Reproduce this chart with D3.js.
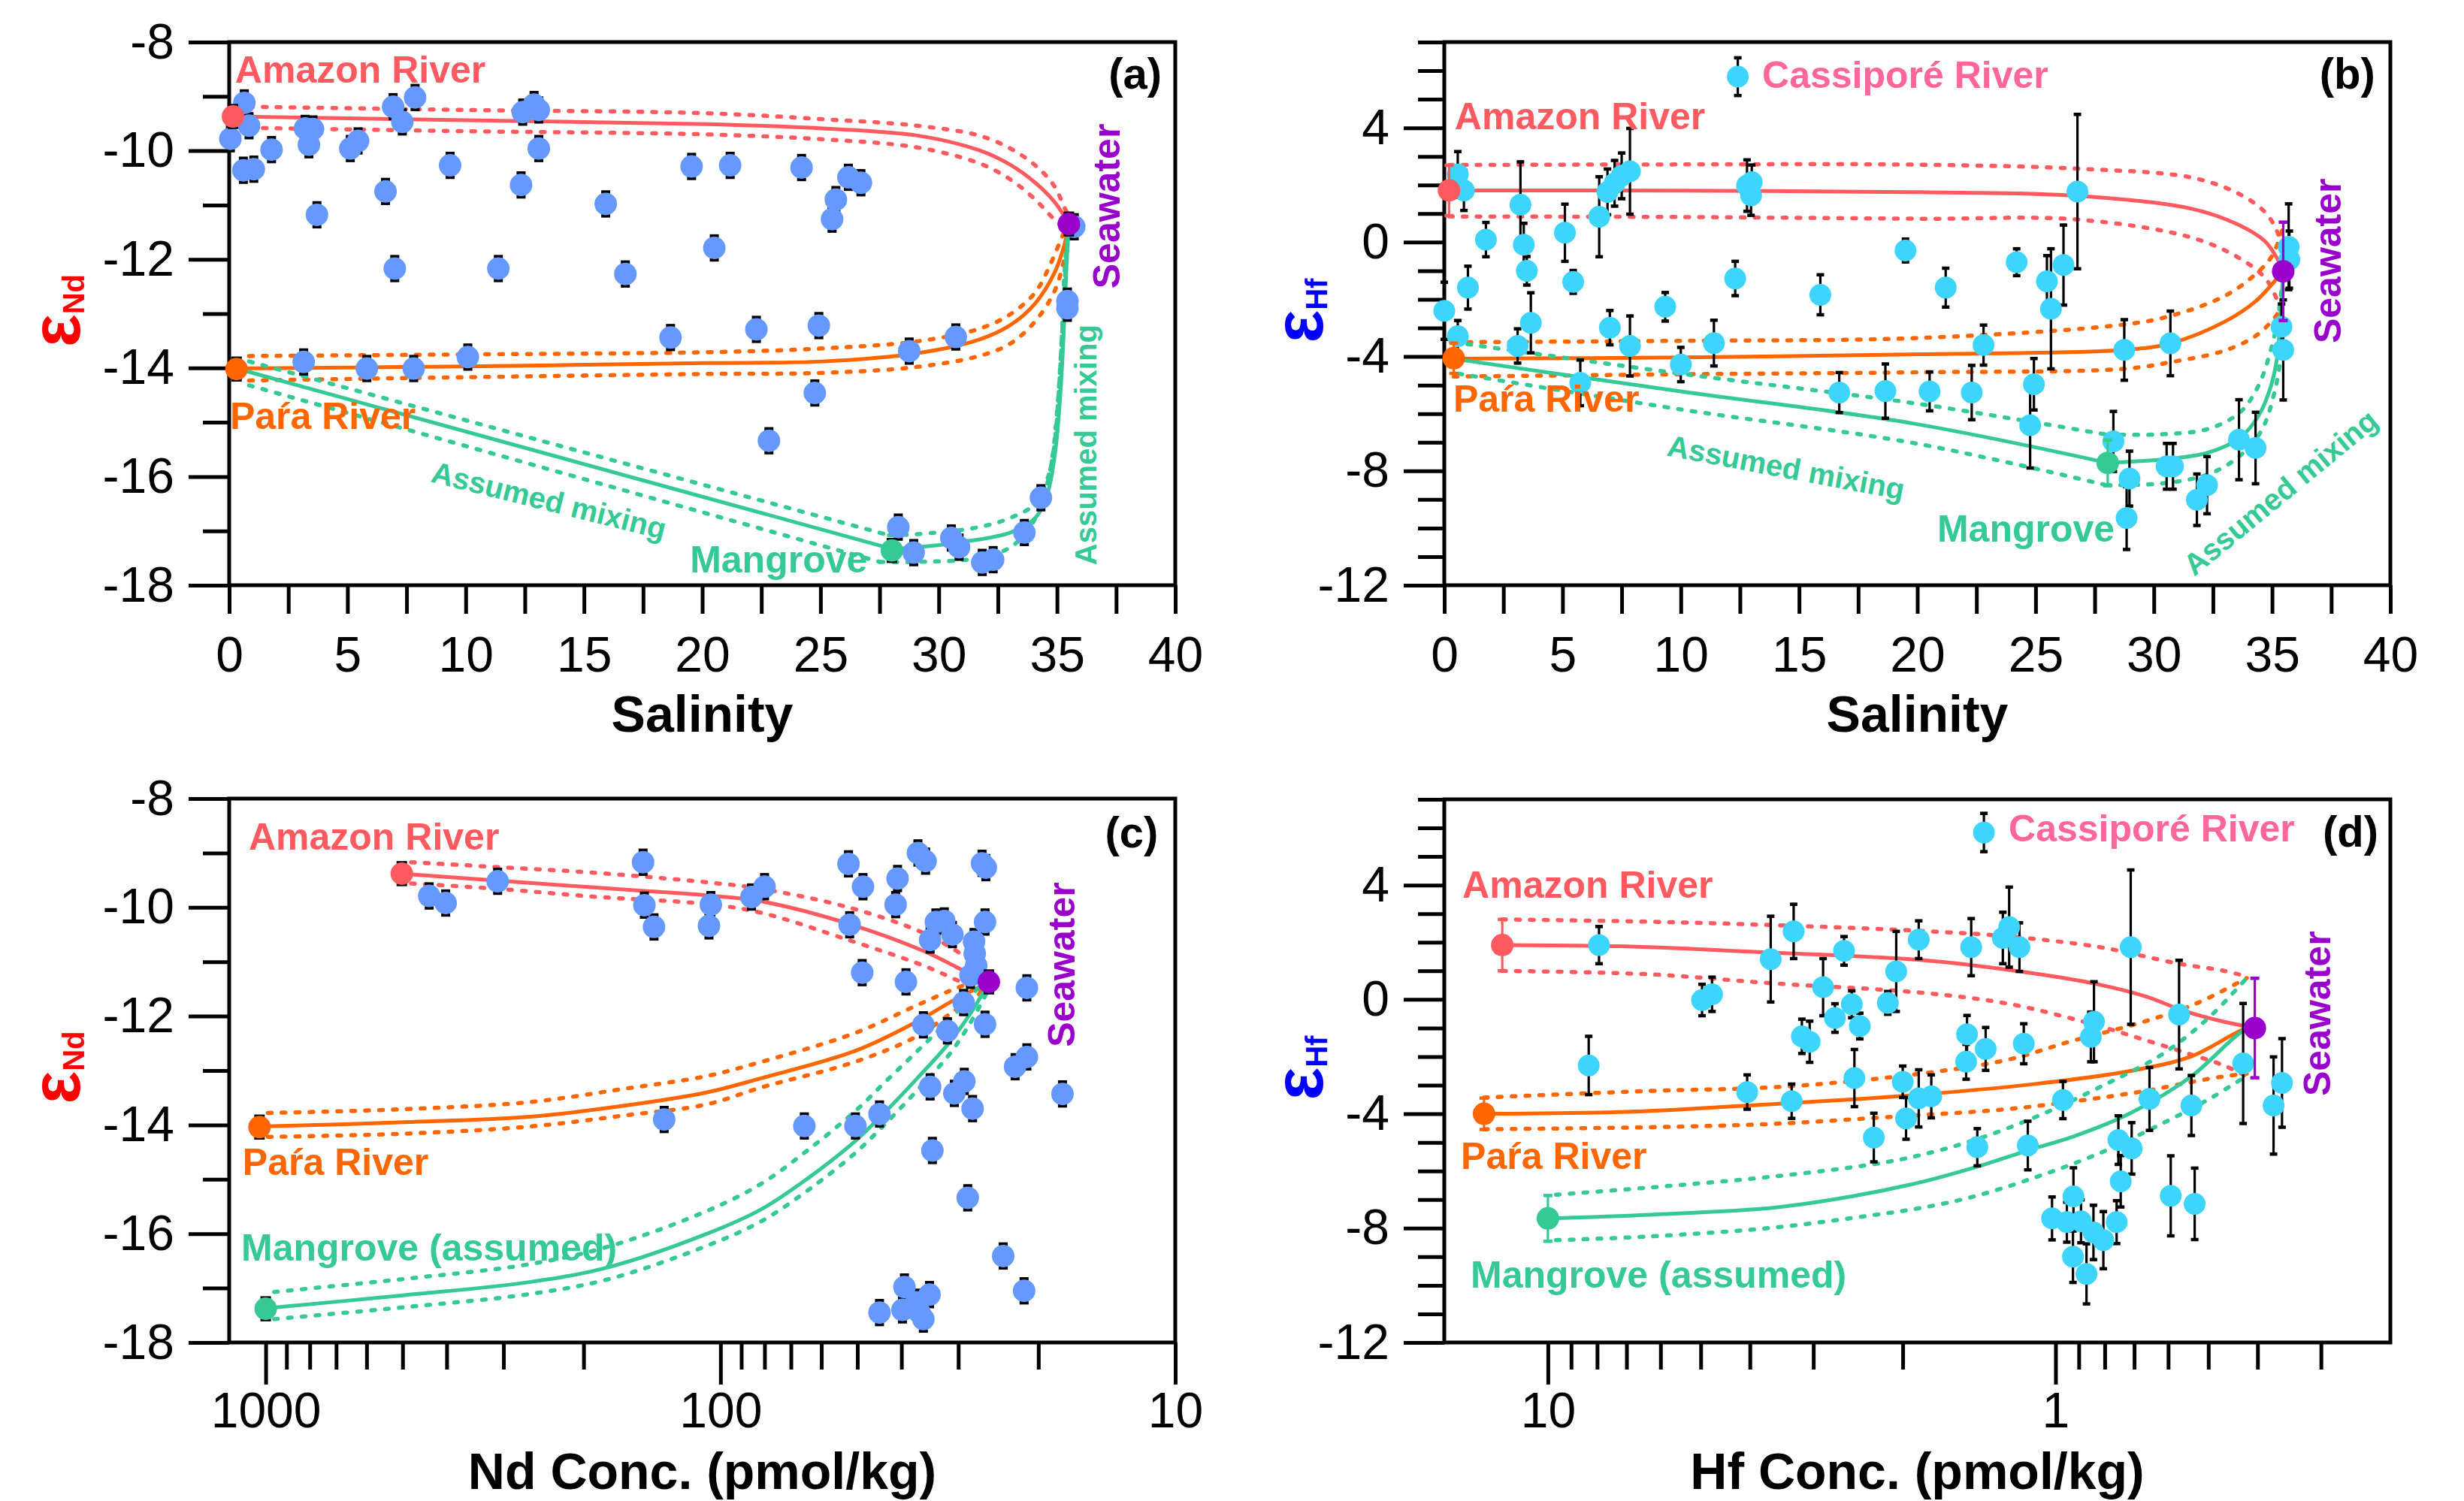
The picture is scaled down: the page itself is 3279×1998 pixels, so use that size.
<!DOCTYPE html>
<html>
<head>
<meta charset="utf-8">
<script src="https://cdn.jsdelivr.net/npm/d3@7"></script>
<style>
  html, body { margin: 0; background: #fff; }
  svg { display: block; }
</style>
</head>
<body>
<svg id="fig" width="3279" height="1998"></svg>
<script>
/*  Nd / Hf isotopes vs salinity and concentration – four panels (a)–(d)
    ------------------------------------------------------------------ */

///// 1.  TICKS
const salTicks    = [0, 2.5, 5, 7.5, 10, 12.5, 15, 17.5, 20, 22.5, 25, 27.5, 30, 32.5, 35, 37.5, 40];
const salLabels   = [0, 5, 10, 15, 20, 25, 30, 35, 40];
const ndMajor     = [-18, -16, -14, -12, -10, -8];
const ndMinor     = [-17, -15, -13, -11, -9];
const hfMajor     = [-12, -8, -4, 0, 4];
const hfMinor     = [-11, -10, -9, -7, -6, -5, -3, -2, -1, 1, 2, 3, 5, 6, 7];
const ndConcMajor = [1000, 100, 10];
const ndConcMinor = [900, 800, 700, 600, 500, 400, 300, 200, 90, 80, 70, 60, 50, 40, 30, 20];
const hfConcMajor = [10, 1];
const hfConcMinor = [9, 8, 7, 6, 5, 4, 3, 2, 0.9, 0.8, 0.7, 0.6, 0.5, 0.4, 0.3];

///// 2.  END MEMBERS  [x, eps, err]
const endA = { amz: [0.16, -9.37, 0.2], para: [0.31, -14.02, 0.2], mg: [28.02, -17.36, 0.2], sw: [35.5, -11.35, 0.2] };
const endB = { amz: [0.2, 1.81, 0.88], para: [0.4, -4.06, 0.53], mg: [28.05, -7.72, 0.8], sw: [35.47, -1.02, 1.72] };
const endC = { amz: [502, -9.38, 0.2], para: [1032, -14.04, 0.2], mg: [1000, -17.38, 0.2], sw: [25.7, -11.37, 0.2] };
const endD = { amz: [12.3, 1.9, 0.9], para: [13.36, -4.0, 0.55], mg: [10, -7.66, 0.8], sw: [0.405, -1.0, 1.74] };

const ndErr = 0.22;   // εNd 2σ (same for all samples)

///// 3.  SAMPLES
// (a) salinity, εNd
const ndSal = [
  [0.05,-9.78],[0.64,-9.12],[0.84,-9.54],[0.6,-10.36],[1.04,-10.34],[1.79,-9.98],
  [3.21,-9.59],[3.54,-9.6],[3.37,-9.89],[3.71,-11.18],[5.12,-9.96],[5.45,-9.82],
  [6.61,-10.75],[6.93,-9.19],[7.32,-9.47],[7.0,-12.17],[7.86,-9.02],[9.34,-10.27],
  [11.38,-12.17],[12.34,-10.63],[12.41,-9.29],[12.89,-9.15],[13.09,-9.25],[13.09,-9.96],
  [15.92,-10.98],[16.75,-12.27],[18.66,-13.44],[19.55,-10.29],[21.18,-10.27],[20.51,-11.79],
  [22.29,-13.29],[22.82,-15.34],[24.2,-10.31],[24.93,-13.22],[24.76,-14.46],[25.49,-11.26],
  [25.65,-10.9],[26.18,-10.49],[26.71,-10.59],[28.75,-13.69],[30.72,-13.43],
  [28.29,-16.93],[28.94,-17.4],[30.53,-17.13],[30.86,-17.3],[31.84,-17.58],[32.3,-17.53],
  [33.62,-17.03],[34.32,-16.39],[35.44,-12.77],[35.44,-12.9],[35.73,-11.4],
  [3.15,-13.89],[5.82,-14.01],[7.8,-14.01],[10.09,-13.8]
];
// (b) salinity, εHf, err
const hfSal = [
  [0,-2.4,1.0],[0.57,2.37,0.8],[0.83,1.81,0.7],[0.57,-3.29,0.55],[1.0,-1.59,0.75],[1.76,0.09,0.6],
  [3.22,1.31,1.5],[3.36,-0.09,0.75],[3.49,-1.0,0.5],[3.1,-3.63,0.6],[3.66,-2.82,1.05],[5.1,0.33,1.0],
  [5.45,-1.39,0.4],[5.75,-4.92,0.8],[6.55,0.89,1.4],[6.9,1.76,0.8],[7.2,2.06,0.8],[7.5,2.32,0.8],
  [7.85,2.48,1.5],[7.0,-2.99,0.6],[7.85,-3.63,1.05],[9.34,-2.26,0.5],[10.0,-4.28,0.6],[11.4,-3.53,0.8],
  [12.3,-1.27,0.6],[12.8,1.98,0.9],[13.0,2.1,0.6],[12.97,1.64,0.7],[15.9,-1.84,0.7],[16.7,-5.26,0.7],
  [18.65,-5.21,0.95],[19.5,-0.29,0.4],[20.52,-5.22,0.68],[21.2,-1.59,0.68],[22.3,-5.26,0.95],[22.8,-3.6,0.7],
  [24.2,-0.7,0.47],[24.77,-6.4,1.5],[24.93,-4.97,0.9],[25.48,-1.37,0.9],[25.65,-2.33,2.1],[26.18,-0.8,1.4],
  [26.77,1.77,2.7],[28.29,-6.97,1.05],[28.75,-3.77,1.06],[28.97,-8.27,0.96],[28.85,-9.65,1.1],
  [30.54,-7.84,0.8],[30.81,-7.84,0.8],[30.7,-3.54,1.13],[31.82,-9.01,0.9],[32.25,-8.5,1.0],
  [33.6,-6.91,1.4],[34.3,-7.2,1.25],[35.4,-2.96,0.8],[35.47,-3.77,1.75],[35.7,-0.16,1.5],[35.73,-0.61,1.0]
];
// (c) Nd conc (pmol/kg), εNd
const ndConc = [
  [437,-9.79],[402,-9.92],[309,-9.52],[148,-9.17],[147,-9.96],[140,-10.36],[133,-13.9],[106,-10.34],
  [105,-9.95],[85.5,-9.81],[80,-9.62],[65.4,-14.02],[52.3,-9.2],[48.6,-9.62],[52.0,-10.32],[48.8,-11.2],
  [50.5,-14.02],[44.7,-13.8],[40.8,-9.47],[41.2,-9.95],[39.1,-11.37],[36.8,-9.0],[35.4,-9.15],[35.8,-12.16],
  [34.6,-13.3],[34.2,-14.47],[33.6,-10.27],[32.2,-10.25],[34.6,-10.6],[30.9,-10.5],[31.7,-12.27],[30.6,-13.42],
  [29.1,-13.2],[29.2,-11.75],[28.6,-15.34],[27.9,-13.7],[27.7,-10.63],[27.6,-10.85],[27.4,-11.07],[28.2,-11.25],
  [26.6,-9.19],[26.1,-9.27],[26.2,-10.27],[26.2,-12.15],[23.9,-16.41],[22.5,-12.93],[21.2,-12.75],[21.2,-11.48],
  [21.5,-17.05],[17.7,-13.43],[44.7,-17.45],[39.8,-17.4],[39.4,-16.98],[37.1,-17.26],[35.8,-17.57],[34.7,-17.12],
  [36.5,-17.45]
];
// (d) Hf conc (pmol/kg), εHf, err
const hfConc = [
  [7.93,1.9,0.65],[8.31,-2.31,1.02],[4.97,-0.02,0.55],[4.75,0.18,0.6],[3.64,1.41,1.5],[3.28,2.38,0.95],
  [4.05,-3.24,0.6],[3.31,-3.56,0.6],[2.87,0.43,1.0],[3.16,-1.29,0.6],[3.05,-1.48,0.72],[2.72,-0.65,0.5],
  [2.52,-0.17,0.47],[2.43,-0.93,0.45],[2.61,1.7,0.5],[2.49,-2.75,1.0],[2.28,-4.83,0.85],[2.14,-0.12,0.4],
  [2.06,0.98,1.4],[2.0,-2.88,0.55],[1.97,-4.16,0.73],[1.86,2.09,0.66],[1.466,1.83,1.0],[1.27,2.15,0.9],
  [1.234,2.53,1.4],[1.178,1.83,0.85],[0.711,1.83,2.7],[0.571,-0.53,1.9],[0.84,-0.78,1.4],[0.852,-1.31,0.87],
  [1.494,-1.22,0.66],[1.5,-2.18,0.61],[1.373,-1.73,0.75],[1.155,-1.55,0.7],[1.86,-3.46,1.0],[1.757,-3.39,0.75],
  [0.967,-3.52,0.65],[0.653,-3.48,1.1],[0.54,-3.71,1.05],[0.427,-2.24,2.1],[0.372,-3.71,1.7],[0.358,-2.92,1.55],
  [1.426,-5.17,0.65],[1.134,-5.11,0.85],[0.752,-4.92,0.85],[0.708,-5.21,0.9],[0.744,-6.36,0.9],[0.922,-6.89,1.0],
  [1.016,-7.66,0.75],[0.95,-7.79,0.7],[0.891,-7.76,0.75],[0.842,-8.15,0.95],[0.805,-8.42,1.0],[0.758,-7.79,0.75],
  [0.924,-9.0,0.9],[0.869,-9.6,1.05],[0.593,-6.87,1.4],[0.532,-7.15,1.25]
];
// Cassiporé River legend symbol
const cassA = [[12.41, 5.79, 0.66]];
const cassD = [[1.384, 5.84, 0.67]];

///// 4.  MIXING CURVES
// (a)
const aAmz    = [[0.16,-9.37],[10,-9.44],[20.17,-9.51],[25.1,-9.59],[29.08,-9.72],[31.7,-9.99],[33.03,-10.26],[34.08,-10.59],[34.87,-10.93],[35.3,-11.2],[35.5,-11.35]];
const aAmzHi  = [[0.84,-9.19],[10,-9.25],[20.17,-9.31],[25.1,-9.42],[29.08,-9.54],[31.7,-9.72],[33.03,-9.96],[34.08,-10.27],[34.87,-10.64],[35.33,-11.06],[35.5,-11.2]];
const aAmzLo  = [[0.84,-9.58],[10,-9.64],[20.17,-9.7],[25.1,-9.79],[29.08,-9.94],[31.7,-10.23],[33.03,-10.53],[34.08,-10.9],[34.87,-11.26],[35.33,-11.43],[35.5,-11.5]];
const aPara   = [[0.31,-14.01],[10,-13.97],[20.17,-13.91],[25.1,-13.88],[29.08,-13.73],[31.7,-13.48],[33.03,-13.21],[34.08,-12.81],[34.87,-12.27],[35.27,-11.8],[35.5,-11.37]];
const aParaHi = [[0.84,-13.78],[10,-13.75],[20.17,-13.71],[25.1,-13.64],[29.08,-13.51],[31.7,-13.28],[33.03,-13.01],[34.08,-12.61],[34.74,-12.07],[35.2,-11.6],[35.5,-11.3]];
const aParaLo = [[0.84,-14.23],[10,-14.17],[20.17,-14.11],[25.1,-14.09],[29.08,-13.98],[31.7,-13.78],[33.03,-13.55],[34.08,-13.14],[34.87,-12.61],[35.27,-12.07],[35.5,-11.5]];
const aMgIn   = [[0.31,-14.01],[28.02,-17.33]];
const aMgInHi = [[0.84,-13.88],[27.9,-17.08]];
const aMgInLo = [[0.84,-14.32],[27.5,-17.57]];
const aMg     = [[28.02,-17.33],[29.08,-17.3],[31.05,-17.2],[33.03,-17.03],[34.08,-16.76],[34.61,-16.29],[34.94,-15.49],[35.14,-14.48],[35.27,-13.48],[35.4,-12.13],[35.5,-11.37]];
const aMgHi   = [[27.9,-17.08],[29.08,-17.06],[31.7,-16.93],[33.03,-16.76],[34.08,-16.5],[34.61,-16.02],[34.87,-15.49],[35.07,-14.48],[35.2,-13.48],[35.33,-12.13],[35.5,-11.35]];
const aMgLo   = [[27.5,-17.57],[29.08,-17.57],[31.7,-17.5],[33.03,-17.3],[33.82,-16.96],[34.34,-16.5],[34.74,-15.82],[35.0,-14.82],[35.2,-13.48],[35.37,-12.12],[35.5,-11.45]];
// (b)
const bAmz    = [[0.2,1.81],[10,1.8],[20.1,1.75],[26.8,1.62],[31.6,1.17],[33.6,0.6],[34.7,0.03],[35.2,-0.55],[35.46,-1.0]];
const bAmzHi  = [[0.2,2.7],[10,2.72],[20.1,2.71],[26.8,2.57],[31.6,2.26],[33.6,1.69],[34.7,1.05],[35.2,0.4],[35.45,-0.3]];
const bAmzLo  = [[0.2,0.9],[10,0.88],[20.1,0.82],[26.8,0.79],[31.6,0.16],[33.6,-0.55],[34.7,-1.25],[35.2,-2.0],[35.45,-2.7]];
const bPara   = [[0.4,-4.08],[10,-4.03],[20.1,-3.92],[28.75,-3.77],[30.7,-3.54],[33.0,-2.78],[34.3,-2.07],[35.1,-1.37],[35.46,-1.0]];
const bParaHi = [[0.4,-3.5],[10,-3.45],[20.1,-3.35],[28.75,-2.88],[30.7,-2.58],[33.0,-1.88],[34.3,-1.12],[35.0,-0.48],[35.45,0.5]];
const bParaLo = [[0.4,-4.7],[10,-4.62],[20.1,-4.55],[28.75,-4.43],[30.7,-4.2],[33.0,-3.79],[34.3,-3.28],[35.1,-2.65],[35.45,-2.2]];
const bMgIn   = [[0.4,-4.08],[10,-5.22],[19.8,-6.34],[28.05,-7.72]];
const bMgInHi = [[0.4,-3.5],[10,-4.6],[20,-5.65],[28,-6.73]];
const bMgInLo = [[0.6,-4.6],[10,-5.85],[20,-7.05],[28,-8.5]];
const bMg     = [[28.05,-7.72],[29.01,-7.68],[31.0,-7.55],[32.31,-7.36],[33.63,-6.85],[34.42,-6.08],[34.94,-5.06],[35.21,-4.05],[35.34,-2.77],[35.47,-1.0]];
const bMgHi   = [[28,-6.73],[30.33,-6.72],[32.3,-6.53],[33.63,-5.96],[34.4,-5.06],[34.94,-3.79],[35.27,-2.52],[35.45,-1.2]];
const bMgLo   = [[28,-8.5],[30.33,-8.44],[32.3,-8.12],[33.63,-7.48],[34.55,-6.59],[35.08,-5.32],[35.4,-3.79],[35.45,-2.7]];
// (c)
const cAmz    = [[502,-9.38],[308,-9.51],[192,-9.63],[140,-9.71],[107,-9.78],[81.3,-9.89],[52.3,-10.3],[35.8,-10.8],[29.1,-11.17],[25.7,-11.38]];
const cAmzHi  = [[479,-9.17],[308,-9.26],[192,-9.36],[107,-9.54],[81.3,-9.66],[52.3,-10.0],[35.8,-10.47],[29.1,-10.9],[26.5,-11.2]];
const cAmzLo  = [[479,-9.56],[308,-9.66],[192,-9.8],[107,-9.94],[81.3,-10.1],[52.3,-10.6],[35.8,-11.07],[29.1,-11.4],[26.5,-11.55]];
const cPara   = [[1032,-14.03],[494,-13.95],[263,-13.85],[164,-13.65],[107,-13.4],[81.3,-13.14],[50.6,-12.64],[37.0,-12.1],[30.6,-11.7],[25.7,-11.38]];
const cParaHi = [[989,-13.78],[494,-13.71],[263,-13.58],[164,-13.34],[107,-13.1],[81.3,-12.84],[50.6,-12.31],[37.0,-11.8],[30.6,-11.5],[26.5,-11.3]];
const cParaLo = [[989,-14.22],[494,-14.16],[263,-14.03],[164,-13.83],[107,-13.62],[81.3,-13.31],[50.6,-12.84],[37.0,-12.37],[30.6,-11.9],[26.5,-11.55]];
const cMg     = [[1000,-17.37],[494,-17.13],[263,-16.89],[177,-16.62],[107,-16.0],[81.3,-15.55],[64.2,-14.98],[50.6,-14.3],[43.3,-13.75],[37.0,-13.15],[31.5,-12.5],[28.2,-11.95],[25.7,-11.38]];
const cMgHi   = [[958,-17.07],[494,-16.83],[263,-16.56],[177,-16.24],[107,-15.58],[81.3,-15.08],[64.2,-14.46],[50.6,-13.75],[43.3,-13.2],[37.0,-12.65],[31.5,-12.08],[28.2,-11.65],[26.2,-11.3]];
const cMgLo   = [[958,-17.57],[494,-17.35],[263,-17.11],[177,-16.84],[107,-16.22],[81.3,-15.77],[64.2,-15.2],[50.6,-14.52],[43.3,-13.97],[37.0,-13.37],[31.5,-12.72],[28.2,-12.12],[25.9,-11.55]];
// (d)
const dAmz    = [[12.3,1.9],[7.26,1.86],[3.64,1.64],[1.85,1.38],[1.2,1.0],[0.842,0.56],[0.666,0.11],[0.558,-0.4],[0.466,-0.78],[0.405,-1.0]];
const dAmzHi  = [[12.3,2.8],[6.31,2.72],[3.58,2.6],[1.85,2.4],[1.25,2.21],[0.819,1.83],[0.575,1.26],[0.466,1.0],[0.42,0.8]];
const dAmzLo  = [[12.3,1.0],[6.31,0.88],[3.58,0.56],[1.85,0.24],[1.25,-0.14],[0.88,-0.78],[0.666,-1.42],[0.54,-1.93],[0.466,-2.31],[0.42,-2.69]];
const dPara   = [[13.36,-4.0],[7,-3.93],[4.13,-3.72],[2.04,-3.39],[1.09,-2.95],[0.711,-2.5],[0.54,-1.99],[0.427,-1.06],[0.405,-1.0]];
const dParaHi = [[13.36,-3.43],[6.31,-3.2],[3.58,-3.07],[2.04,-2.69],[1.25,-2.12],[0.94,-1.48],[0.711,-0.91],[0.575,-0.4],[0.5,0.05],[0.42,0.75]];
const dParaLo = [[13.36,-4.54],[6.31,-4.47],[3.58,-4.35],[2.04,-4.09],[1.25,-3.84],[0.88,-3.52],[0.666,-3.2],[0.54,-2.89],[0.466,-2.69],[0.42,-2.6]];
const dMg     = [[10,-7.66],[6.31,-7.53],[3.58,-7.28],[2.52,-6.89],[1.85,-6.4],[1.446,-5.88],[1.115,-5.24],[0.92,-4.79],[0.711,-3.97],[0.54,-2.69],[0.427,-1.1],[0.405,-1.0]];
const dMgHi   = [[9.64,-6.83],[6.31,-6.58],[3.58,-6.19],[2.26,-5.75],[1.85,-5.45],[1.446,-4.92],[1.087,-4.09],[0.819,-3.07],[0.618,-1.93],[0.5,-0.65],[0.42,0.75]];
const dMgLo   = [[9.64,-8.42],[6.31,-8.29],[3.58,-7.98],[2.26,-7.53],[1.85,-7.3],[1.446,-6.89],[1.087,-6.2],[0.819,-5.38],[0.618,-4.35],[0.5,-3.5],[0.427,-2.75]];

///// 5.  STYLE
const FONT = '"Liberation Sans", Arial, Helvetica, sans-serif';
const COL = {
  amz: '#ff5a5f', para: '#ff6600', mg: '#35c996', sw: '#9900cc',
  nd: '#6699ff', hf: '#3dd5fc', cass: '#ff6699'
};

const svg = d3.select('#fig');
svg.append('rect').attr('width', 3279).attr('height', 1998).attr('fill', '#fff');

///// 6.  SCALES (one pair per panel)
const P = {
  a: { x: d3.scaleLinear([0, 40], [305, 1564]),  y: d3.scaleLinear([-18, -8], [779, 56]) },
  b: { x: d3.scaleLinear([0, 40], [1922, 3181]), y: d3.scaleLinear([-12, 7], [779, 56]) },
  c: { x: d3.scaleLog([1203, 10], [305, 1564]),  y: d3.scaleLinear([-18, -8], [1787, 1063]) },
  d: { x: d3.scaleLog([16, 0.219], [1922, 3181]), y: d3.scaleLinear([-12, 7], [1787, 1064]) }
};

///// 7.  DRAWERS
function frame (p, o) {
  const [x0, x1] = p.x.range(), [y0, y1] = p.y.range();
  const g = svg.append('g');

  if (o.xMinor) {
    g.append('g').attr('transform', `translate(0,${y0})`)
     .call(d3.axisBottom(p.x).tickValues(o.xMinor).tickSize(36).tickFormat(''));
  }
  g.append('g').attr('transform', `translate(0,${y0})`)
   .call(d3.axisBottom(p.x).tickValues(o.xMajor).tickSize(o.xLen).tickPadding(o.xPad)
     .tickFormat(d => o.xLabels.includes(d) ? String(d) : ''));

  g.append('g').attr('transform', `translate(${x0},0)`)
   .call(d3.axisLeft(p.y).tickValues(o.yMinor).tickSize(35).tickFormat(''));
  g.append('g').attr('transform', `translate(${x0},0)`)
   .call(d3.axisLeft(p.y).tickValues(o.yMajor).tickSize(54).tickPadding(19).tickFormat(d => String(d)));

  g.selectAll('.domain').remove();
  g.selectAll('.tick line').attr('stroke', '#000').attr('stroke-width', 5);
  g.selectAll('.tick text').attr('font-size', 66).attr('font-family', FONT).attr('fill', '#000');

  g.append('rect')
   .attr('x', x0).attr('y', y1).attr('width', x1 - x0).attr('height', y0 - y1)
   .attr('fill', 'none').attr('stroke', '#000').attr('stroke-width', 5);

  // x title
  g.append('text')
   .attr('x', (x0 + x1) / 2).attr('y', y0 + 195)
   .attr('text-anchor', 'middle').attr('font-family', FONT)
   .attr('font-weight', 'bold').attr('font-size', 68)
   .text(o.xTitle);

  // y title: epsilon + subscript
  const t = g.append('text')
   .attr('transform', `translate(${x0 - o.epsOff},${(y0 + y1) / 2 - 4}) rotate(-90)`)
   .attr('text-anchor', 'middle').attr('font-family', FONT)
   .attr('font-weight', 'bold').attr('fill', o.epsColor);
  t.append('tspan').attr('font-size', 92).text('ε');
  t.append('tspan').attr('font-size', 40).attr('dy', 6).text(o.epsSub);
}

const lineGen = p => d3.line()
  .x(d => p.x(d[0])).y(d => p.y(d[1]))
  .curve(d3.curveCatmullRom.alpha(0.5));

function curve (p, pts, color, dashed) {
  svg.append('path')
     .attr('d', lineGen(p)(pts))
     .attr('fill', 'none')
     .attr('stroke', color)
     .attr('stroke-width', dashed ? 5.5 : 5)
     .attr('stroke-linecap', dashed ? 'round' : 'butt')
     .attr('stroke-dasharray', dashed ? '5,13.5' : null);
}

function mix (p, mid, hi, lo, color) {
  curve(p, hi, color, true);
  curve(p, lo, color, true);
  curve(p, mid, color, false);
}

// error bars + circles; err = fixed value or d[2]
function points (p, pts, fill, err, barColor, r, capW) {
  const g = svg.append('g');
  const e = d => (err != null ? err : d[2]);
  g.selectAll('line.bar').data(pts).join('line')
   .attr('x1', d => p.x(d[0])).attr('x2', d => p.x(d[0]))
   .attr('y1', d => p.y(d[1] + e(d))).attr('y2', d => p.y(d[1] - e(d)))
   .attr('stroke', barColor).attr('stroke-width', 3.2);
  [1, -1].forEach(s => {
    g.selectAll(null).data(pts).join('line')
     .attr('x1', d => p.x(d[0]) - capW).attr('x2', d => p.x(d[0]) + capW)
     .attr('y1', d => p.y(d[1] + s * e(d))).attr('y2', d => p.y(d[1] + s * e(d)))
     .attr('stroke', barColor).attr('stroke-width', 4.5);
  });
  g.selectAll('circle').data(pts).join('circle')
   .attr('cx', d => p.x(d[0])).attr('cy', d => p.y(d[1]))
   .attr('r', r).attr('fill', fill);
}

function ends (p, em, hf) {
  [['amz', COL.amz], ['para', COL.para], ['mg', COL.mg], ['sw', COL.sw]].forEach(([k, c]) => {
    points(p, [em[k]], c, null, hf ? c : '#000', 15, hf ? 6 : 7);
  });
}

function label (p, txt, at, color, size, rot, anchor) {
  svg.append('text')
     .attr('transform', `translate(${p.x(at[0])},${p.y(at[1])}) rotate(${rot || 0})`)
     .attr('text-anchor', anchor || 'start')
     .attr('font-family', FONT).attr('font-weight', 'bold')
     .attr('font-size', size).attr('fill', color)
     .text(txt);
}

///// 8.  PANELS
// (a) εNd vs salinity
frame(P.a, { xMajor: salTicks, xLabels: salLabels, xLen: 38, xPad: 30,
             yMajor: ndMajor, yMinor: ndMinor, xTitle: 'Salinity',
             epsOff: 199, epsColor: '#ff0000', epsSub: 'Nd' });
mix(P.a, aAmz, aAmzHi, aAmzLo, COL.amz);
mix(P.a, aPara, aParaHi, aParaLo, COL.para);
mix(P.a, aMgIn, aMgInHi, aMgInLo, COL.mg);
mix(P.a, aMg, aMgHi, aMgLo, COL.mg);
points(P.a, ndSal, COL.nd, ndErr, '#000', 15, 6);
ends(P.a, endA, false);
label(P.a, 'Amazon River', [0.25, -8.75], COL.amz, 50);
label(P.a, 'Paŕa River', [0.03, -15.12], COL.para, 50);
label(P.a, 'Mangrove', [19.48, -17.76], COL.mg, 50);
label(P.a, 'Assumed mixing', [8.48, -16.09], COL.mg, 40, 14);
label(P.a, 'Assumed mixing', [36.66, -17.63], COL.mg, 40, -90);
label(P.a, 'Seawater', [37.65, -12.54], COL.sw, 50, -90);
label(P.a, '(a)', [39.43, -8.86], '#000', 58, 0, 'end');

// (b) εHf vs salinity
frame(P.b, { xMajor: salTicks, xLabels: salLabels, xLen: 38, xPad: 30,
             yMajor: hfMajor, yMinor: hfMinor, xTitle: 'Salinity',
             epsOff: 162, epsColor: '#0000ff', epsSub: 'Hf' });
mix(P.b, bAmz, bAmzHi, bAmzLo, COL.amz);
mix(P.b, bPara, bParaHi, bParaLo, COL.para);
mix(P.b, bMgIn, bMgInHi, bMgInLo, COL.mg);
mix(P.b, bMg, bMgHi, bMgLo, COL.mg);
points(P.b, hfSal, COL.hf, null, '#000', 14.5, 5);
ends(P.b, endB, true);
points(P.b, cassA, COL.hf, null, '#000', 14.5, 5);
label(P.b, 'Cassiporé River', [13.44, 5.4], COL.cass, 50);
label(P.b, 'Amazon River', [0.44, 3.95], COL.amz, 50);
label(P.b, 'Paŕa River', [0.38, -5.93], COL.para, 50);
label(P.b, 'Mangrove', [20.84, -10.48], COL.mg, 50);
label(P.b, 'Assumed mixing', [9.37, -7.46], COL.mg, 40, 10.7);
label(P.b, 'Assumed mixing', [31.71, -11.71], COL.mg, 40, -39.5);
label(P.b, 'Seawater', [37.9, -3.54], COL.sw, 50, -90);
label(P.b, '(b)', [39.36, 5.37], '#000', 58, 0, 'end');

// (c) εNd vs Nd concentration
frame(P.c, { xMajor: ndConcMajor, xMinor: ndConcMinor, xLabels: ndConcMajor, xLen: 56, xPad: 10,
             yMajor: ndMajor, yMinor: ndMinor, xTitle: 'Nd Conc. (pmol/kg)',
             epsOff: 199, epsColor: '#ff0000', epsSub: 'Nd' });
mix(P.c, cAmz, cAmzHi, cAmzLo, COL.amz);
mix(P.c, cPara, cParaHi, cParaLo, COL.para);
mix(P.c, cMg, cMgHi, cMgLo, COL.mg);
points(P.c, ndConc, COL.nd, ndErr, '#000', 15, 6);
ends(P.c, endC, false);
label(P.c, 'Amazon River', [1090, -8.94], COL.amz, 50);
label(P.c, 'Paŕa River', [1124, -14.92], COL.para, 50);
label(P.c, 'Mangrove (assumed)', [1132, -16.49], COL.mg, 50);
label(P.c, 'Seawater', [16.65, -12.57], COL.sw, 50, -90);
label(P.c, '(c)', [10.9, -8.9], '#000', 58, 0, 'end');

// (d) εHf vs Hf concentration
frame(P.d, { xMajor: hfConcMajor, xMinor: hfConcMinor, xLabels: hfConcMajor, xLen: 56, xPad: 10,
             yMajor: hfMajor, yMinor: hfMinor, xTitle: 'Hf Conc. (pmol/kg)',
             epsOff: 162, epsColor: '#0000ff', epsSub: 'Hf' });
mix(P.d, dAmz, dAmzHi, dAmzLo, COL.amz);
mix(P.d, dPara, dParaHi, dParaLo, COL.para);
mix(P.d, dMg, dMgHi, dMgLo, COL.mg);
points(P.d, hfConc, COL.hf, null, '#000', 14.5, 5);
ends(P.d, endD, true);
points(P.d, cassD, COL.hf, null, '#000', 14.5, 5);
label(P.d, 'Cassiporé River', [1.237, 5.53], COL.cass, 50);
label(P.d, 'Amazon River', [14.74, 3.56], COL.amz, 50);
label(P.d, 'Paŕa River', [14.84, -5.93], COL.para, 50);
label(P.d, 'Mangrove (assumed)', [14.2, -10.08], COL.mg, 50);
label(P.d, 'Seawater', [0.2876, -3.38], COL.sw, 50, -90);
label(P.d, '(d)', [0.2312, 5.34], '#000', 58, 0, 'end');
</script>
</body>
</html>
